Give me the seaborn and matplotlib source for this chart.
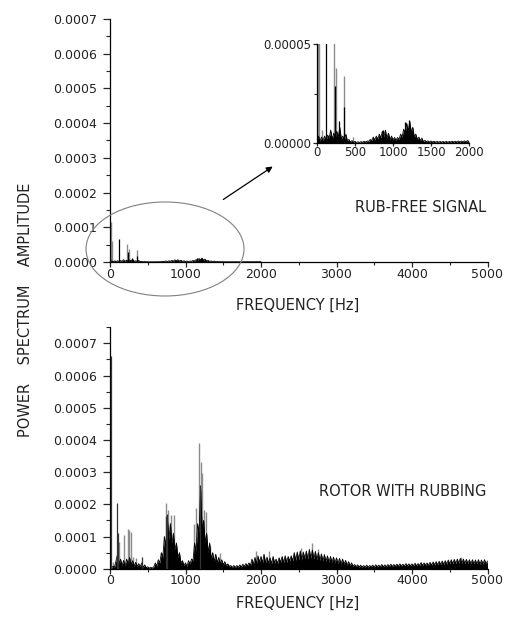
import numpy as np
import matplotlib
matplotlib.use("Agg")
import matplotlib.pyplot as plt
import seaborn as sns
from matplotlib.patches import Ellipse, FancyArrowPatch
from matplotlib.ticker import MultipleLocator, FormatStrFormatter

# ---------------- data ----------------
# Rub-free signal: dense spectrum 0..2000 Hz, step 20 Hz (units 1e-6)
free_freq = np.arange(0, 2001, 20)
free_mass = [
    1.5, 3.5, 1.0, 3.0, 1.2, 3.5, 1.5, 4.0, 2.5, 6.5,
    2.0, 5.0, 2.5, 6.0, 3.0, 8.0, 2.0, 3.5, 1.5, 4.5,
    1.0, 1.8, 0.5, 1.2, 0.4, 0.8, 0.3, 0.6, 0.3, 0.7,
    0.4, 0.9, 0.5, 1.0, 0.8, 1.8, 1.2, 3.0, 1.5, 3.5,
    2.0, 4.5, 2.5, 6.0, 3.0, 6.5, 2.5, 5.0, 1.8, 3.5,
    1.5, 2.8, 1.4, 2.8, 1.8, 4.5, 3.0, 7.0, 5.0, 10.0,
    6.0, 11.0, 5.5, 8.0, 3.0, 4.5, 1.8, 3.0, 1.2, 2.5,
    0.7, 1.3, 0.6, 1.1, 0.5, 1.0, 0.5, 0.9, 0.4, 0.8,
    0.4, 0.8, 0.4, 0.8, 0.4, 0.8, 0.4, 0.8, 0.5, 0.9,
    0.5, 0.9, 0.5, 1.0, 0.5, 1.0, 0.6, 1.1, 0.6, 1.2,
    0.8,
]
free_gray_freq = [15, 26, 70, 228, 250, 351, 480]
free_gray_val = [114, 60, 6.5, 51.6, 38, 34, 3.2]          # units 1e-6
free_black_freq = [114, 233, 290, 355, 870, 1158, 1210]
free_black_val = [66, 29, 11, 18, 6.5, 10.8, 11.6]         # units 1e-6

# Rotor with rubbing: dense spectrum 0..5000 Hz, step 20 Hz (units 1e-5)
rub_freq = np.arange(0, 5001, 20)
rub_mass = [
    0.4, 0.2, 0.8, 0.5, 2.5, 4.5, 1.5, 3.0, 1.0, 2.6,
    0.8, 3.0, 1.5, 3.5, 1.2, 2.5, 0.8, 2.0, 0.7, 1.6,
    0.6, 1.8, 0.5, 1.2, 0.3, 0.6, 0.2, 0.4, 0.2, 0.6,
    1.8, 0.8, 2.8, 1.8, 5.0, 3.5, 10.0, 7.0, 15.5, 9.0,
    14.0, 8.0, 11.0, 6.0, 8.0, 3.5, 5.0, 1.8, 2.5, 0.9,
    1.8, 0.7, 2.5, 1.5, 3.0, 2.5, 8.0, 5.0, 14.0, 11.0,
    25.0, 12.0, 15.0, 8.0, 11.0, 5.0, 8.0, 3.0, 5.0, 2.2,
    4.5, 1.8, 3.5, 1.5, 2.8, 1.2, 2.2, 1.0, 1.5, 0.7,
    1.0, 0.4, 1.0, 0.4, 1.0, 0.5, 1.2, 0.5, 1.4, 0.7,
    1.6, 0.9, 1.8, 1.0, 3.0, 1.4, 3.5, 1.6, 4.0, 2.0,
    3.8, 1.8, 4.5, 1.8, 3.6, 1.6, 3.4, 1.5, 3.8, 1.7,
    3.0, 1.6, 3.4, 2.0, 3.8, 1.9, 4.0, 2.0, 3.8, 2.4,
    4.0, 2.4, 5.0, 2.6, 5.2, 2.8, 5.5, 2.8, 5.2, 3.2,
    5.5, 3.0, 6.0, 3.2, 5.8, 3.0, 5.4, 2.8, 5.0, 2.6,
    4.6, 2.4, 4.4, 2.2, 4.0, 2.0, 3.8, 2.0, 3.6, 1.8,
    3.4, 1.6, 3.2, 1.5, 3.0, 1.4, 2.6, 1.1, 2.2, 0.9,
    1.8, 0.7, 1.3, 0.6, 1.2, 0.5, 1.1, 0.5, 1.0, 0.5,
    1.1, 0.5, 1.0, 0.6, 1.1, 0.5, 1.2, 0.6, 1.1, 0.6,
    1.3, 0.6, 1.2, 0.6, 1.3, 0.7, 1.4, 0.7, 1.3, 0.8,
    1.4, 0.8, 1.5, 0.8, 1.4, 0.8, 1.6, 0.9, 1.5, 0.9,
    1.5, 0.9, 1.7, 0.9, 1.6, 1.0, 1.9, 1.0, 1.8, 1.1,
    1.8, 1.1, 2.0, 1.1, 2.1, 1.2, 2.2, 1.2, 2.3, 1.3,
    2.4, 1.3, 2.5, 1.4, 2.7, 1.5, 2.8, 1.5, 2.9, 1.6,
    3.0, 1.7, 3.2, 1.7, 3.0, 1.6, 2.9, 1.6, 2.8, 1.5,
    2.8, 1.5, 2.7, 1.5, 2.8, 1.4, 2.7, 1.4, 2.8, 1.5,
    2.4,
]
rub_gray_freq = [45, 120, 180, 235, 255, 275, 300, 340, 690, 745, 770, 810, 845,
                 1110, 1140, 1177, 1208, 1215, 1243, 1265, 1330, 1460, 1940, 2100,
                 2530, 2670, 2760, 4650]
rub_gray_val = [2, 8.4, 10.5, 12.2, 12, 11.5, 3.5, 3.2, 5, 20.3, 18.2, 16.7, 16.7,
                14, 19, 39, 33, 29.6, 18.2, 17.7, 7, 5, 5.5, 5.5,
                6.5, 8, 6, 3.5]                               # units 1e-5
rub_black_freq = [10, 98, 105, 430, 740, 760, 1190]
rub_black_val = [66, 20.3, 11, 3.7, 16.5, 17, 26]            # units 1e-5

y_ticks = [0.0, 0.0001, 0.0002, 0.0003, 0.0004, 0.0005, 0.0006, 0.0007]
x_ticks = [0, 1000, 2000, 3000, 4000, 5000]
inset_x_ticks = [0, 500, 1000, 1500, 2000]
inset_y_ticks = [0.0, 0.00005]

# ---------------- style ----------------
sns.set_style("ticks")
plt.rcParams["font.family"] = ["DejaVu Sans"]
TXT = "#222222"

W, H = 507, 617
fig = plt.figure(figsize=(W / 100, H / 100), dpi=100)


def fx(px):
    return px / W


def fy(py):
    return 1 - py / H


ax1 = fig.add_axes([fx(110), fy(262), 377.5 / W, 243 / H])
ax2 = fig.add_axes([fx(110), fy(568.7), 377.5 / W, 241.5 / H])
axin = fig.add_axes([fx(317), fy(143), 152 / W, 99 / H])


def draw(ax, f, mass, scale, gf, gv, bf, bv, tall_color="black"):
    m = np.asarray(mass) * scale
    ax.vlines(gf, 0, np.asarray(gv) * scale, color="#8c8c8c", lw=1.0, zorder=1)
    ax.fill_between(f, 0, m, color="black", lw=0, zorder=2)
    sns.lineplot(x=f, y=m, color="black", lw=0.6, ax=ax, zorder=3)
    ax.vlines(bf, 0, np.asarray(bv) * scale, color=tall_color, lw=0.9, zorder=4)


draw(ax1, free_freq, free_mass, 1e-6, free_gray_freq, free_gray_val,
     free_black_freq, free_black_val)
draw(axin, free_freq, free_mass, 1e-6, free_gray_freq, free_gray_val,
     free_black_freq, free_black_val)
draw(ax2, rub_freq, rub_mass, 1e-5, rub_gray_freq, rub_gray_val,
     rub_black_freq, rub_black_val, tall_color="#333333")

for ax, ytop in [(ax1, 0.0007), (ax2, 0.00075)]:
    ax.set_xlim(0, 5000)
    ax.set_ylim(0, ytop)
    ax.set_xticks(x_ticks)
    ax.set_yticks(y_ticks)
    ax.xaxis.set_minor_locator(MultipleLocator(500))
    ax.yaxis.set_minor_locator(MultipleLocator(0.00005))
    ax.yaxis.set_major_formatter(FormatStrFormatter("%.4f"))
    ax.tick_params(axis="y", which="major", direction="out", length=4.8, width=0.9,
                   pad=4.2, labelsize=9, labelcolor=TXT)
    ax.tick_params(axis="y", which="minor", direction="out", length=2.6, width=0.8)
    ax.tick_params(axis="x", which="major", direction="out", length=3.5, width=0.9,
                   pad=0.5, labelsize=9, labelcolor=TXT)
    ax.tick_params(axis="x", which="minor", direction="out", length=2.2, width=0.8)
    sns.despine(ax=ax)
    for s in ("left", "bottom"):
        ax.spines[s].set_color("black")
        ax.spines[s].set_linewidth(0.9)
    ax.set_xlabel("")
    ax.set_ylabel("")
    ax.patch.set_alpha(0)

axin.set_xlim(0, 2000)
axin.set_ylim(0, 0.00005)
axin.set_xticks(inset_x_ticks)
axin.set_yticks(inset_y_ticks)
axin.set_yticklabels(["0.00000", "0.00005"])
axin.yaxis.set_minor_locator(MultipleLocator(0.000025))
axin.tick_params(axis="y", which="major", direction="out", length=3, width=0.9,
                 pad=1.2, labelsize=8.5, labelcolor=TXT)
axin.tick_params(axis="y", which="minor", direction="out", length=2, width=0.8)
axin.tick_params(axis="x", which="major", direction="out", length=2.5, width=0.9,
                 pad=0, labelsize=8.5, labelcolor=TXT)
sns.despine(ax=axin)
for s in ("left", "bottom"):
    axin.spines[s].set_color("black")
    axin.spines[s].set_linewidth(0.9)
axin.set_xlabel("")
axin.set_ylabel("")
axin.patch.set_alpha(0)

# ---------------- texts ----------------
fig.text(fx(26), fy(310), "POWER    SPECTRUM    AMPLITUDE", rotation=90,
         ha="center", va="center", fontsize=10.5, color=TXT)
fig.text(fx(298), fy(305), "FREQUENCY [Hz]", ha="center", va="center",
         fontsize=10.5, color=TXT)
fig.text(fx(298), fy(603), "FREQUENCY [Hz]", ha="center", va="center",
         fontsize=10.5, color=TXT)
fig.text(fx(486), fy(207), "RUB-FREE SIGNAL", ha="right", va="center",
         fontsize=10.5, color=TXT)
fig.text(fx(486), fy(492), "ROTOR WITH RUBBING", ha="right", va="center",
         fontsize=10.5, color=TXT)

# ellipse + arrow
fig.add_artist(Ellipse((fx(165), fy(249)), 158 / W, 94 / H, transform=fig.transFigure,
                       fill=False, ec="#808080", lw=0.8))
fig.add_artist(FancyArrowPatch((fx(221), fy(201)), (fx(275), fy(165)),
                               transform=fig.transFigure, arrowstyle="-|>",
                               mutation_scale=9, color="black", lw=0.9))

fig.savefig("out.png", dpi=100)
